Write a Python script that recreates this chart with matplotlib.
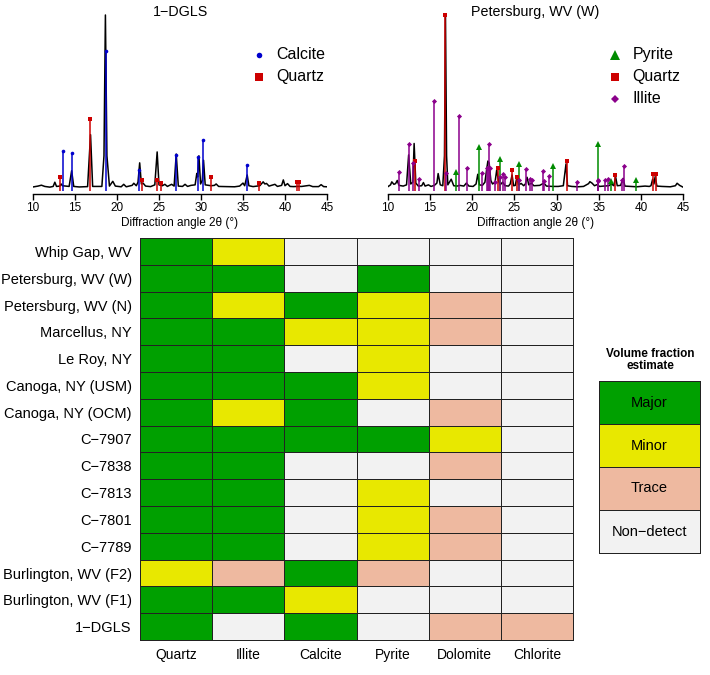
import numpy as np
import matplotlib.pyplot as plt
from matplotlib.colors import ListedColormap

plt.rcParams['font.family'] = ['Liberation Sans', 'DejaVu Sans']

# ---- XRD pattern, 1-DGLS (2theta, relative intensity) ----
dgls_tt = [10.0, 10.6, 11.0, 11.4, 12.0, 12.4, 12.6, 12.8, 13.2, 13.35, 13.5, 14.3, 14.6, 14.85,
           15.5, 16.5, 16.85, 17.1, 18.2, 18.45, 18.62, 18.8, 19.1, 19.5, 19.8, 20.5, 20.8, 21.1,
           21.8, 22.0, 22.3, 22.5, 22.7, 22.9, 23.1, 23.4, 24.0, 24.5, 24.78, 25.0, 25.4, 25.7,
           26.0, 26.5, 26.8, 27.05, 27.3, 27.8, 28.1, 28.4, 28.8, 29.3, 29.5, 29.6, 29.75, 29.95,
           30.15, 30.3, 30.5, 31.2, 31.6, 31.8, 32.1, 33.0, 34.0, 34.6, 35.0, 35.2, 35.5, 35.7,
           36.2, 37.0, 37.4, 37.6, 37.8, 38.1, 38.8, 39.1, 39.6, 39.8, 40.0, 40.3, 40.6, 41.0,
           41.5, 42.0, 42.9, 43.3, 44.0, 44.3, 44.6, 45.0]
dgls_int = [2.3, 2.8, 3.3, 2.6, 2.2, 2.6, 5.0, 2.6, 2.8, 4.0, 3.0, 2.6, 11.5, 2.6,
            2.3, 2.5, 32.0, 2.6, 2.6, 20.0, 100.0, 20.0, 2.8, 5.5, 2.8, 2.4, 3.8, 2.4,
            3.2, 4.4, 3.0, 5.0, 16.0, 4.0, 4.5, 2.8, 2.5, 3.5, 22.2, 3.5, 3.0, 3.8,
            2.6, 3.8, 2.8, 21.0, 2.8, 2.6, 3.8, 2.6, 3.2, 3.5, 10.0, 8.0, 20.0, 4.0,
            6.0, 17.5, 3.5, 3.0, 3.2, 4.0, 2.6, 2.5, 2.4, 2.8, 4.5, 3.0, 9.1, 3.0,
            2.5, 3.0, 5.2, 4.0, 4.3, 2.8, 3.8, 2.6, 3.2, 6.3, 3.0, 4.2, 2.6, 2.5,
            2.6, 2.6, 3.2, 2.5, 2.5, 3.6, 2.5, 2.4]

dgls_calcite_tt = [13.54, 14.64, 18.65, 22.66, 27.03, 29.70, 30.29, 35.48]
dgls_calcite_int = [22.7, 21.6, 79.7, 11.9, 20.3, 19.3, 29.2, 15.0]
dgls_quartz_tt = [13.26, 16.84, 23.02, 24.71, 25.22, 31.19, 36.86, 41.38, 41.69]
dgls_quartz_int = [8.0, 41.1, 6.3, 6.1, 4.5, 8.0, 4.7, 5.1, 5.1]

# ---- XRD pattern, Petersburg, WV (W) ----
pw_tt = [10.0, 10.3, 10.45, 10.7, 10.9, 11.1, 11.3, 11.8, 12.2, 12.45, 12.7, 12.95, 13.1, 13.3,
         13.6, 14.0, 14.2, 14.4, 14.8, 15.1, 15.5, 15.8, 15.95, 16.2, 16.5, 16.7, 16.82, 16.95,
         17.1, 17.5, 17.8, 18.2, 18.5, 19.0, 19.3, 19.6, 20.1, 20.45, 20.65, 20.85, 21.2, 21.5,
         21.7, 21.85, 22.0, 22.2, 22.4, 22.7, 22.9, 23.1, 23.3, 23.6, 23.9, 24.3, 24.5, 24.72,
         24.9, 25.1, 25.3, 25.5, 25.8, 26.1, 26.3, 26.5, 26.7, 27.0, 27.3, 28.0, 28.5, 28.8,
         29.5, 30.2, 30.8, 31.12, 31.3, 31.8, 32.5, 33.2, 33.8, 33.95, 34.2, 34.5, 34.8, 35.1,
         35.6, 36.2, 36.5, 36.8, 37.0, 37.2, 37.6, 37.9, 38.1, 38.8, 39.5, 40.5, 41.0, 41.2,
         41.4, 41.55, 41.7, 41.9, 42.5, 43.5, 44.1, 44.3, 44.6, 45.0]
pw_int = [2.5, 3.5, 5.2, 3.8, 4.2, 6.0, 3.2, 2.8, 3.5, 20.5, 4.0, 5.0, 27.0, 4.5,
          2.8, 3.0, 4.8, 2.8, 3.5, 2.6, 3.2, 4.5, 9.9, 3.5, 3.0, 20.0, 99.5, 20.0,
          3.5, 6.7, 3.0, 2.8, 3.2, 2.8, 4.5, 2.8, 2.6, 4.0, 9.5, 3.5, 3.2, 5.0,
          12.0, 17.0, 16.0, 6.0, 4.0, 5.0, 12.0, 6.0, 3.5, 5.0, 3.0, 2.8, 4.0, 9.1,
          3.0, 3.2, 8.0, 3.5, 4.3, 3.0, 4.0, 7.8, 3.5, 4.5, 3.0, 3.2, 4.5, 2.8,
          2.6, 2.6, 3.0, 15.4, 3.0, 2.6, 2.4, 2.6, 4.2, 5.3, 4.5, 3.0, 3.6, 2.6,
          2.8, 3.0, 4.0, 3.0, 8.2, 3.0, 3.2, 7.2, 2.8, 2.6, 2.4, 2.8, 2.6, 3.0,
          6.7, 4.0, 8.2, 2.8, 2.6, 2.4, 3.0, 4.4, 3.2, 2.2]

pw_pyrite_tt = [18.03, 20.80, 23.33, 25.54, 29.53, 34.87, 36.45, 39.46]
pw_pyrite_int = [11.0, 25.0, 18.1, 15.2, 14.3, 26.9, 5.7, 6.5]
pw_quartz_tt = [13.24, 16.80, 23.01, 24.75, 25.26, 31.27, 36.97, 41.48, 41.75]
pw_quartz_int = [16.8, 100.0, 12.8, 12.0, 8.2, 17.1, 9.3, 9.5, 9.7]
pw_illite_tt = [11.30, 12.49, 12.97, 13.68, 15.42, 16.92, 18.42, 19.33, 21.11, 21.74, 21.86,
                22.02, 22.14, 22.65, 23.25, 23.64, 23.92, 25.50, 26.37, 26.88, 27.08, 28.35,
                28.51, 29.06, 32.46, 34.87, 34.95, 35.74, 36.14, 37.76, 38.04]
pw_illite_int = [10.7, 26.5, 15.8, 7.0, 51.4, 10.1, 42.7, 12.8, 10.1, 13.3, 13.3,
                 26.5, 13.3, 5.1, 8.2, 9.7, 8.0, 6.1, 12.4, 7.0, 6.5, 11.2,
                 5.7, 8.6, 5.1, 6.3, 5.7, 6.3, 6.7, 6.3, 14.3]

# ---- mineral estimates ----
samples = ['Whip Gap, WV', 'Petersburg, WV (W)', 'Petersburg, WV (N)', 'Marcellus, NY',
           'Le Roy, NY', 'Canoga, NY (USM)', 'Canoga, NY (OCM)', 'C\u22127907', 'C\u22127838',
           'C\u22127813', 'C\u22127801', 'C\u22127789', 'Burlington, WV (F2)',
           'Burlington, WV (F1)', '1\u2212DGLS']
minerals = ['Quartz', 'Illite', 'Calcite', 'Pyrite', 'Dolomite', 'Chlorite']
estimates = [
    ['Major', 'Minor', 'Non-detect', 'Non-detect', 'Non-detect', 'Non-detect'],
    ['Major', 'Major', 'Non-detect', 'Major', 'Non-detect', 'Non-detect'],
    ['Major', 'Minor', 'Major', 'Minor', 'Trace', 'Non-detect'],
    ['Major', 'Major', 'Minor', 'Minor', 'Trace', 'Non-detect'],
    ['Major', 'Major', 'Non-detect', 'Minor', 'Non-detect', 'Non-detect'],
    ['Major', 'Major', 'Major', 'Minor', 'Non-detect', 'Non-detect'],
    ['Major', 'Minor', 'Major', 'Non-detect', 'Trace', 'Non-detect'],
    ['Major', 'Major', 'Major', 'Major', 'Minor', 'Non-detect'],
    ['Major', 'Major', 'Non-detect', 'Non-detect', 'Trace', 'Non-detect'],
    ['Major', 'Major', 'Non-detect', 'Minor', 'Non-detect', 'Non-detect'],
    ['Major', 'Major', 'Non-detect', 'Minor', 'Trace', 'Non-detect'],
    ['Major', 'Major', 'Non-detect', 'Minor', 'Trace', 'Non-detect'],
    ['Minor', 'Trace', 'Major', 'Trace', 'Non-detect', 'Non-detect'],
    ['Major', 'Major', 'Minor', 'Non-detect', 'Non-detect', 'Non-detect'],
    ['Major', 'Non-detect', 'Major', 'Non-detect', 'Trace', 'Trace'],
]
levels = ['Major', 'Minor', 'Trace', 'Non-detect']
level_labels = ['Major', 'Minor', 'Trace', 'Non\u2212detect']
level_colors = ['#00A000', '#E8E800', '#EEB9A0', '#F2F2F2']

fig = plt.figure(figsize=(7.1, 6.75), dpi=100)


def px_axes(l, t, r, b):
    return fig.add_axes([l / 710, 1 - b / 675, (r - l) / 710, (b - t) / 675])


def xrd_panel(ax, title, tt, inten, sticks, legend_x):
    ax.plot(tt, inten, color='black', lw=1.1, zorder=2)
    for name, x, y, col, mk, ms, lms in sticks:
        ax.vlines(x, 0, y, color=col, lw=1.1, zorder=3)
        ax.plot(x, y, ls='none', marker=mk, color=col, ms=ms, mew=0, zorder=4)
    ax.set_xlim(10, 45)
    ax.set_ylim(-1.7, 101.7)
    ax.set_xticks(np.arange(10, 46, 5))
    ax.tick_params(axis='x', length=4, width=1, labelsize=8.5, pad=2)
    ax.set_yticks([])
    for s in ['top', 'left', 'right']:
        ax.spines[s].set_visible(False)
    ax.spines['bottom'].set_linewidth(1)
    ax.set_xlabel('Diffraction angle 2\u03b8 (\u00b0)', fontsize=8.5, labelpad=2)
    ax.text(0.5, 1.0, title, transform=ax.transAxes, ha='center', va='center', fontsize=10.3)
    ax.patch.set_alpha(0)
    # legend keys
    for i, (name, x, y, col, mk, ms, lms) in enumerate(sticks):
        yy = 0.764 - i * 0.121
        ax.plot([legend_x], [yy], transform=ax.transAxes, marker=mk, color=col, ms=lms,
                mew=0, ls='none', clip_on=False)
        ax.text(legend_x + 0.058, yy, name, transform=ax.transAxes, va='center',
                fontsize=11.5)


ax1 = px_axes(33, 12, 327, 194)
xrd_panel(ax1, '1\u2212DGLS', dgls_tt, dgls_int,
          [('Calcite', dgls_calcite_tt, dgls_calcite_int, '#0000CD', 'o', 2.6, 4.0),
           ('Quartz', dgls_quartz_tt, dgls_quartz_int, '#CD0000', 's', 3.3, 5.5)],
          0.769)

ax2 = px_axes(388, 12, 683, 194)
xrd_panel(ax2, 'Petersburg, WV (W)', pw_tt, pw_int,
          [('Pyrite', pw_pyrite_tt, pw_pyrite_int, '#008B00', '^', 4.0, 6.5),
           ('Quartz', pw_quartz_tt, pw_quartz_int, '#CD0000', 's', 3.3, 5.5),
           ('Illite', pw_illite_tt, pw_illite_int, '#8B008B', 'D', 2.6, 4.0)],
          0.771)

# ---- heatmap ----
cmap = ListedColormap(level_colors)
codes = np.array([[levels.index(v) for v in row] for row in estimates])
axh = px_axes(140, 238, 573, 640)
mesh = axh.pcolormesh(np.arange(len(minerals) + 1), np.arange(len(samples) + 1), codes,
                      cmap=cmap, vmin=-0.5, vmax=3.5, edgecolors='#222222', linewidth=0.6)
mesh.set_clip_on(False)
axh.set_xlim(0, len(minerals))
axh.set_ylim(len(samples), 0)
axh.set_xticks(np.arange(len(minerals)) + 0.5)
axh.set_xticklabels(minerals, fontsize=10)
axh.set_yticks(np.arange(len(samples)) + 0.5)
axh.set_yticklabels(samples, fontsize=10.5)
axh.tick_params(length=0, pad=6)
for s in axh.spines.values():
    s.set_visible(False)

# ---- heatmap legend ----
axl = px_axes(599, 381, 700, 553)
lmesh = axl.pcolormesh([0, 1], np.arange(len(levels) + 1), np.arange(len(levels)).reshape(-1, 1),
                       cmap=cmap, vmin=-0.5, vmax=3.5, edgecolors='#222222', linewidth=0.6)
lmesh.set_clip_on(False)
axl.set_xlim(0, 1)
axl.set_ylim(len(levels), 0)
for i, lab in enumerate(level_labels):
    axl.text(0.5, i + 0.5, lab, ha='center', va='center', fontsize=10.5)
axl.set_xticks([])
axl.set_yticks([])
for s in axl.spines.values():
    s.set_visible(False)
fig.text(650 / 710, 1 - 360 / 675, 'Volume fraction\nestimate', ha='center', va='center',
         fontsize=8.5, fontweight='bold', linespacing=1.1)

fig.savefig('out.png', dpi=100)
